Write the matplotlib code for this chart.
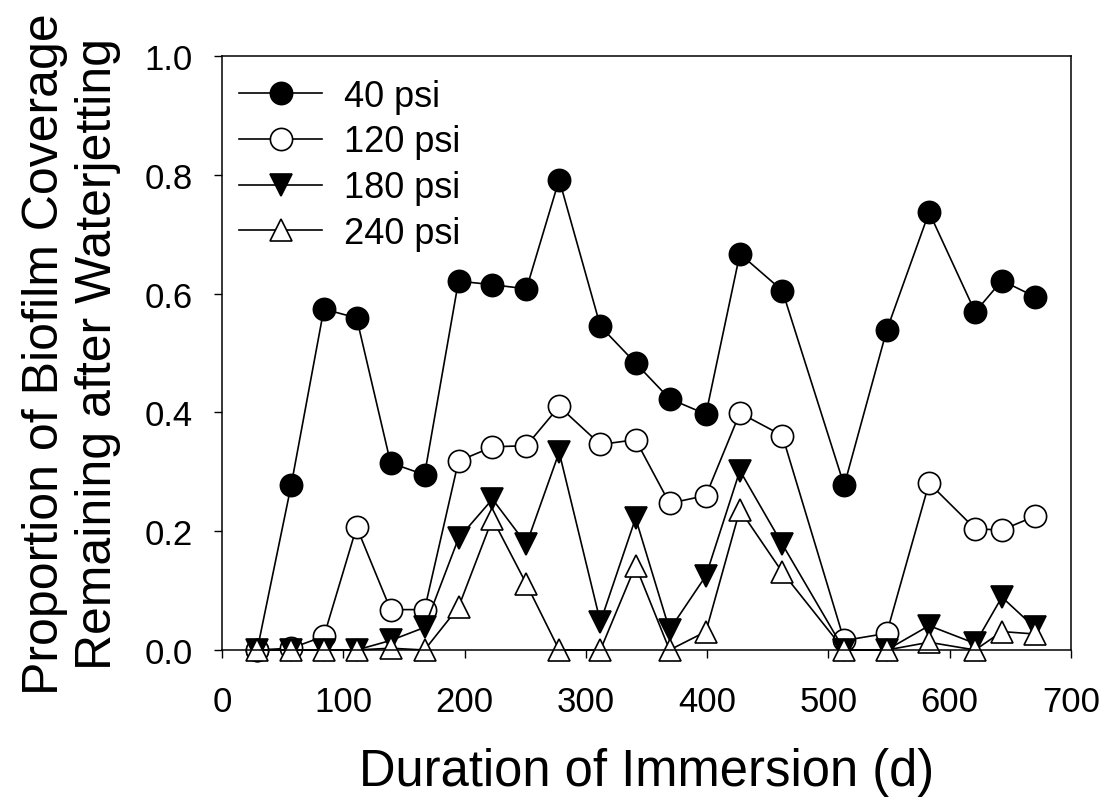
import matplotlib
matplotlib.use('Agg')
import matplotlib.pyplot as plt

# Days of immersion
days = [29, 57, 84, 111, 139, 167, 195, 223, 251, 278, 312, 341,
        369, 399, 427, 462, 513, 548, 583, 621, 643, 670]

# Proportion of biofilm coverage remaining after waterjetting
psi40 = [0.0, 0.277, 0.574, 0.559, 0.315, 0.295, 0.621, 0.615, 0.608, 0.792, 0.545, 0.483,
         0.423, 0.397, 0.667, 0.605, 0.277, 0.538, 0.737, 0.569, 0.622, 0.595]
psi120 = [0.0, 0.003, 0.023, 0.207, 0.068, 0.068, 0.318, 0.342, 0.344, 0.410, 0.346, 0.354,
          0.247, 0.260, 0.399, 0.361, 0.016, 0.028, 0.281, 0.204, 0.202, 0.225]
psi180 = [0.0, 0.0, 0.0, 0.0, 0.016, 0.038, 0.188, 0.254, 0.178, 0.333, 0.047, 0.222,
          0.034, 0.125, 0.302, 0.178, 0.0, 0.0, 0.041, 0.011, 0.089, 0.038]
psi240 = [0.0, 0.0, 0.0, 0.0, 0.003, 0.0, 0.072, 0.221, 0.111, 0.0, 0.0, 0.142,
          0.0, 0.031, 0.236, 0.131, 0.0, 0.0, 0.013, 0.0, 0.031, 0.027]

series_labels = ['40 psi', '120 psi', '180 psi', '240 psi']

plt.rcParams['font.family'] = ['Liberation Sans', 'DejaVu Sans']

fig = plt.figure(figsize=(11.07, 8.03), dpi=100)
ax = fig.add_axes([222 / 1107, 1 - 651 / 803, (1071 - 222) / 1107, (651 - 57) / 803])

styles = [
    dict(marker='o', markerfacecolor='black'),
    dict(marker='o', markerfacecolor='white'),
    dict(marker='v', markerfacecolor='black'),
    dict(marker='^', markerfacecolor='white'),
]
for vals, lab, st in zip([psi40, psi120, psi180, psi240], series_labels, styles):
    ax.plot(days, vals, color='black', linewidth=1.2, markersize=16,
            markeredgecolor='black', markeredgewidth=1.2, label=lab,
            clip_on=False, **st)

ax.set_xlim(0, 700)
ax.set_ylim(0, 1.0)
ax.set_xticks(range(0, 701, 100))
ax.set_yticks([0.0, 0.2, 0.4, 0.6, 0.8, 1.0])
ax.set_yticklabels(['0.0', '0.2', '0.4', '0.6', '0.8', '1.0'])
ax.tick_params(direction='out', length=6, width=1, labelsize=25,
               top=False, right=False)
ax.tick_params(axis='y', pad=15)
ax.tick_params(axis='x', pad=19)
for sp in ax.spines.values():
    sp.set_linewidth(1.1)

ax.set_xlabel('Duration of Immersion (d)', fontsize=36.5, labelpad=21)
ax.set_ylabel('Proportion of Biofilm Coverage\nRemaining after Waterjetting',
              fontsize=36, labelpad=17, linespacing=1.2)

ax.legend(loc='upper left', bbox_to_anchor=(0.02, 0.962), frameon=False,
          fontsize=26, handlelength=2.3, handletextpad=0.6, labelspacing=0.3,
          borderpad=0, borderaxespad=0)

fig.savefig('out.png', dpi=100)
